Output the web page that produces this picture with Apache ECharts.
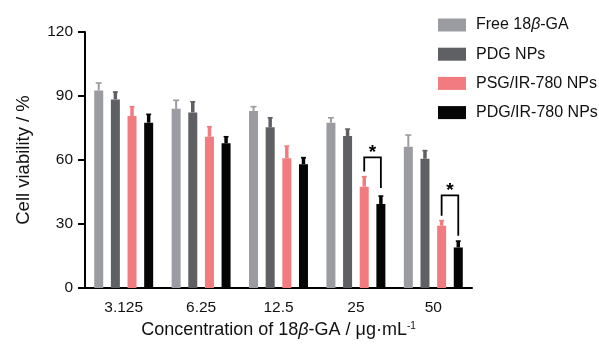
<!DOCTYPE html>
<html><head><meta charset="utf-8">
<script src="https://cdn.jsdelivr.net/npm/echarts@6/dist/echarts.min.js"></script>
<style>html,body{margin:0;padding:0;background:#fff}#c{width:599px;height:350px}</style>
</head><body><div id="c"></div>
<script>
var categories = ['3.125', '6.25', '12.5', '25', '50'];
var seriesNames = ['Free 18β-GA', 'PDG NPs', 'PSG/IR-780 NPs', 'PDG/IR-780 NPs'];
var freeGA = [92.6, 84.0, 83.0, 77.5, 66.2];
var freeGAErr = [3.5, 4.0, 2.0, 2.3, 5.5];
var pdgNPs = [88.4, 82.3, 75.3, 71.2, 60.6];
var pdgNPsErr = [3.5, 5.0, 4.5, 3.3, 3.8];
var psgIR = [80.6, 70.9, 60.8, 47.5, 29.2];
var psgIRErr = [4.4, 4.7, 5.7, 4.7, 2.4];
var pdgIR = [77.5, 67.8, 58.0, 39.4, 19.0];
var pdgIRErr = [3.9, 3.1, 3.1, 3.7, 3.0];
var yTicks = [0, 30, 60, 90, 120];
// significance brackets (PSG/IR-780 vs PDG/IR-780)
var sigCats = [3, 4];
var sigTop = [61.2, 43.4];
var sigLeftEnd = [54.6, 33.9];
var sigRightEnd = [46.9, 24.5];
var sigLabel = ['*', '*'];

var colors = ['#9b9ca1', '#5f6063', '#f27b80', '#050505'];
var FONT = '"Liberation Sans", Arial, sans-serif';
var BAR_W = 9, GAP_RATIO = 0.85;
var STEP = BAR_W * (1 + GAP_RATIO);

var means = [freeGA, pdgNPs, psgIR, pdgIR];
var errs = [freeGAErr, pdgNPsErr, psgIRErr, pdgIRErr];

function offsetOf(i) { return (i - 1.5) * STEP; }

var series = [];
means.forEach(function (m, i) {
  series.push({
    name: seriesNames[i], type: 'bar', data: m, barWidth: BAR_W, barGap: (GAP_RATIO * 100) + '%',
    itemStyle: { color: colors[i] }, z: 2, silent: true
  });
});
means.forEach(function (m, i) {
  series.push({
    type: 'custom', z: 3, silent: true,
    data: m.map(function (v, k) { return [k, v, errs[i][k]]; }),
    renderItem: function (params, api) {
      var c = api.coord([api.value(0), api.value(1)]);
      var t = api.coord([api.value(0), api.value(1) + api.value(2)]);
      var x = c[0] + offsetOf(i);
      var stemW = i === 0 ? 2 : 3.5;
      var capW = i === 0 ? 6 : 5;
      return { type: 'group', children: [
        { type: 'line', shape: { x1: x, y1: c[1], x2: x, y2: t[1] }, style: { stroke: colors[i], lineWidth: stemW } },
        { type: 'line', shape: { x1: x - capW / 2, y1: t[1], x2: x + capW / 2, y2: t[1] }, style: { stroke: colors[i], lineWidth: 1.6 } }
      ]};
    }
  });
});
series.push({
  type: 'custom', z: 4, silent: true,
  data: sigCats.map(function (c, k) { return [c, sigTop[k], sigLeftEnd[k], sigRightEnd[k]]; }),
  renderItem: function (params, api) {
    var top = api.coord([api.value(0), api.value(1)]);
    var l = api.coord([api.value(0), api.value(2)]);
    var r = api.coord([api.value(0), api.value(3)]);
    var xl = top[0] + offsetOf(2), xr = top[0] + offsetOf(3);
    return { type: 'group', children: [
      { type: 'polyline', shape: { points: [[xl, l[1]], [xl, top[1]], [xr, top[1]], [xr, r[1]]] },
        style: { stroke: '#000', lineWidth: 1.8, fill: null } },
      { type: 'text', x: (xl + xr) / 2, y: top[1] + 5,
        style: { text: sigLabel[params.dataIndex], fontSize: 19, fontWeight: 'bold', fontFamily: FONT, fill: '#000', align: 'center', verticalAlign: 'bottom' } }
    ]};
  }
});

var chart = echarts.init(document.getElementById('c'), null, { renderer: 'canvas' });
chart.setOption({
  animation: false,
  backgroundColor: '#fff',
  textStyle: { fontFamily: FONT },
  grid: { left: 85, top: 32, right: 127, bottom: 62, containLabel: false },
  legend: {
    orient: 'vertical', left: 433, top: 12, itemWidth: 28, itemHeight: 13, itemGap: 13.2,
    data: seriesNames.map(function (n) { return { name: n, icon: 'rect' }; }),
    formatter: function (n) { return n.replace('β', '{it|β}'); },
    textStyle: { fontSize: 16, lineHeight: 16, color: '#111', fontFamily: FONT, padding: [0, 0, 0, 5],
      rich: { it: { fontStyle: 'italic', fontSize: 16, lineHeight: 16, color: '#111', fontFamily: FONT } } },
    selectedMode: false
  },
  xAxis: {
    type: 'category', data: categories,
    axisLine: { lineStyle: { color: '#000', width: 2 } },
    axisTick: { alignWithLabel: true, length: 6, lineStyle: { color: '#000', width: 2 } },
    axisLabel: { color: '#111', fontSize: 15.5, margin: 12, fontFamily: FONT },
    name: 'Concentration of 18{it|β}-GA / μg·mL{sup|-1}', nameLocation: 'middle', nameGap: 21,
    nameTextStyle: { fontSize: 18, color: '#111', fontFamily: FONT, verticalAlign: 'top',
      rich: {
        it: { fontStyle: 'italic', fontSize: 18, color: '#111', fontFamily: FONT },
        sup: { fontSize: 10, color: '#111', fontFamily: FONT, verticalAlign: 'top', padding: [0, 0, 8, 0] }
      } }
  },
  yAxis: {
    type: 'value', min: 0, max: 120, interval: 30,
    axisLine: { show: true, lineStyle: { color: '#000', width: 2 } },
    axisTick: { show: true, length: 7, lineStyle: { color: '#000', width: 2 } },
    axisLabel: { color: '#111', fontSize: 15.5, margin: 12, fontFamily: FONT,
      formatter: function (v) { return yTicks.indexOf(v) >= 0 ? String(v) : ''; } },
    splitLine: { show: false },
    name: 'Cell viability / %', nameLocation: 'middle', nameGap: 52, nameRotate: 90,
    nameTextStyle: { fontSize: 18.5, color: '#111', fontFamily: FONT }
  },
  series: series
});
</script></body></html>
